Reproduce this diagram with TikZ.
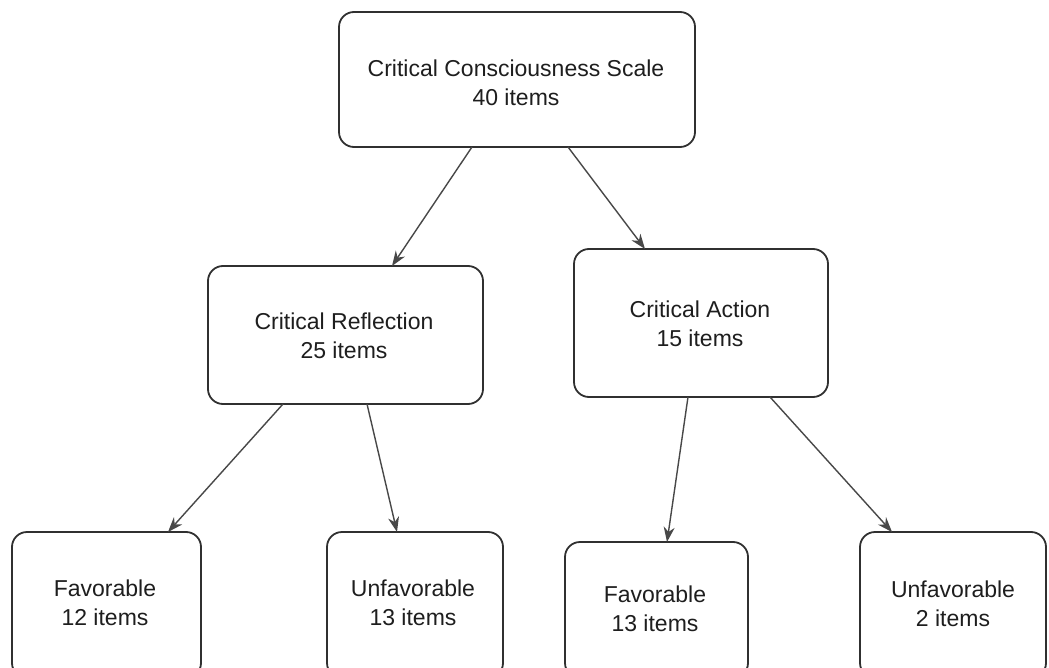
\documentclass[tikz,border=0pt]{standalone}
\usepackage{fontspec}
\setmainfont{Liberation Sans}
\usetikzlibrary{arrows.meta}
\definecolor{boxline}{HTML}{303030}
\definecolor{arrline}{HTML}{484848}
\definecolor{txt}{HTML}{1E1E1E}
\begin{document}
\begin{tikzpicture}[x=1pt,y=-1pt,
  cbox/.style={draw=boxline, line width=1.8pt, rounded corners=15pt, inner sep=0pt, outer sep=0pt, fill=white},
  ctext/.style={text=txt, align=center, inner sep=0pt, font=\fontsize{23}{29}\selectfont},
  conn/.style={draw=arrline, line width=1.4pt, -{Stealth[length=15pt,width=11pt]}}]
\useasboundingbox (0,0) rectangle (1049,668);
\clip (0,0) rectangle (1049,668);
\fill[white] (0,0) rectangle (1049,668);
% boxes
\node[cbox, minimum width=356pt, minimum height=135pt] (top) at (517,79.5) {};
\node[cbox, minimum width=275pt, minimum height=138pt] (cr) at (345.5,335) {};
\node[cbox, minimum width=254pt, minimum height=148pt] (ca) at (701,323) {};
\node[cbox, minimum width=189pt, minimum height=146pt] (f12) at (106.5,605) {};
\node[cbox, minimum width=176pt, minimum height=146pt] (u13) at (415,605) {};
\node[cbox, minimum width=183pt, minimum height=136pt] (f13) at (656.5,610) {};
\node[cbox, minimum width=186pt, minimum height=146pt] (u2) at (953,605) {};
% texts
\node[ctext] (ttop) at (516,82.5) {Critical Consciousness Scale\\40 items};
\node[ctext] (tcr) at (344,336) {Critical Reflection\\25 items};
\node[ctext] (tca) at (700,324) {Critical Action\\15 items};
\node[ctext] (tf12) at (105,602.5) {Favorable\\12 items};
\node[ctext] (tu13) at (413,602.5) {Unfavorable\\13 items};
\node[ctext] (tf13) at (655,608.5) {Favorable\\13 items};
\node[ctext] (tu2) at (953,604) {Unfavorable\\2 items};
% connectors
\draw[conn] ([xshift=-45pt]top.south) -- ([xshift=46.5pt]cr.north);
\draw[conn] ([xshift=51pt]top.south) -- ([xshift=-56pt]ca.north);
\draw[conn] ([xshift=-62.5pt]cr.south) -- ([xshift=61.5pt]f12.north);
\draw[conn] ([xshift=21.5pt]cr.south) -- ([xshift=-18pt]u13.north);
\draw[conn] ([xshift=-13pt]ca.south) -- ([xshift=10.5pt]f13.north);
\draw[conn] ([xshift=69pt]ca.south) -- ([xshift=-61pt]u2.north);
\end{tikzpicture}
\end{document}
